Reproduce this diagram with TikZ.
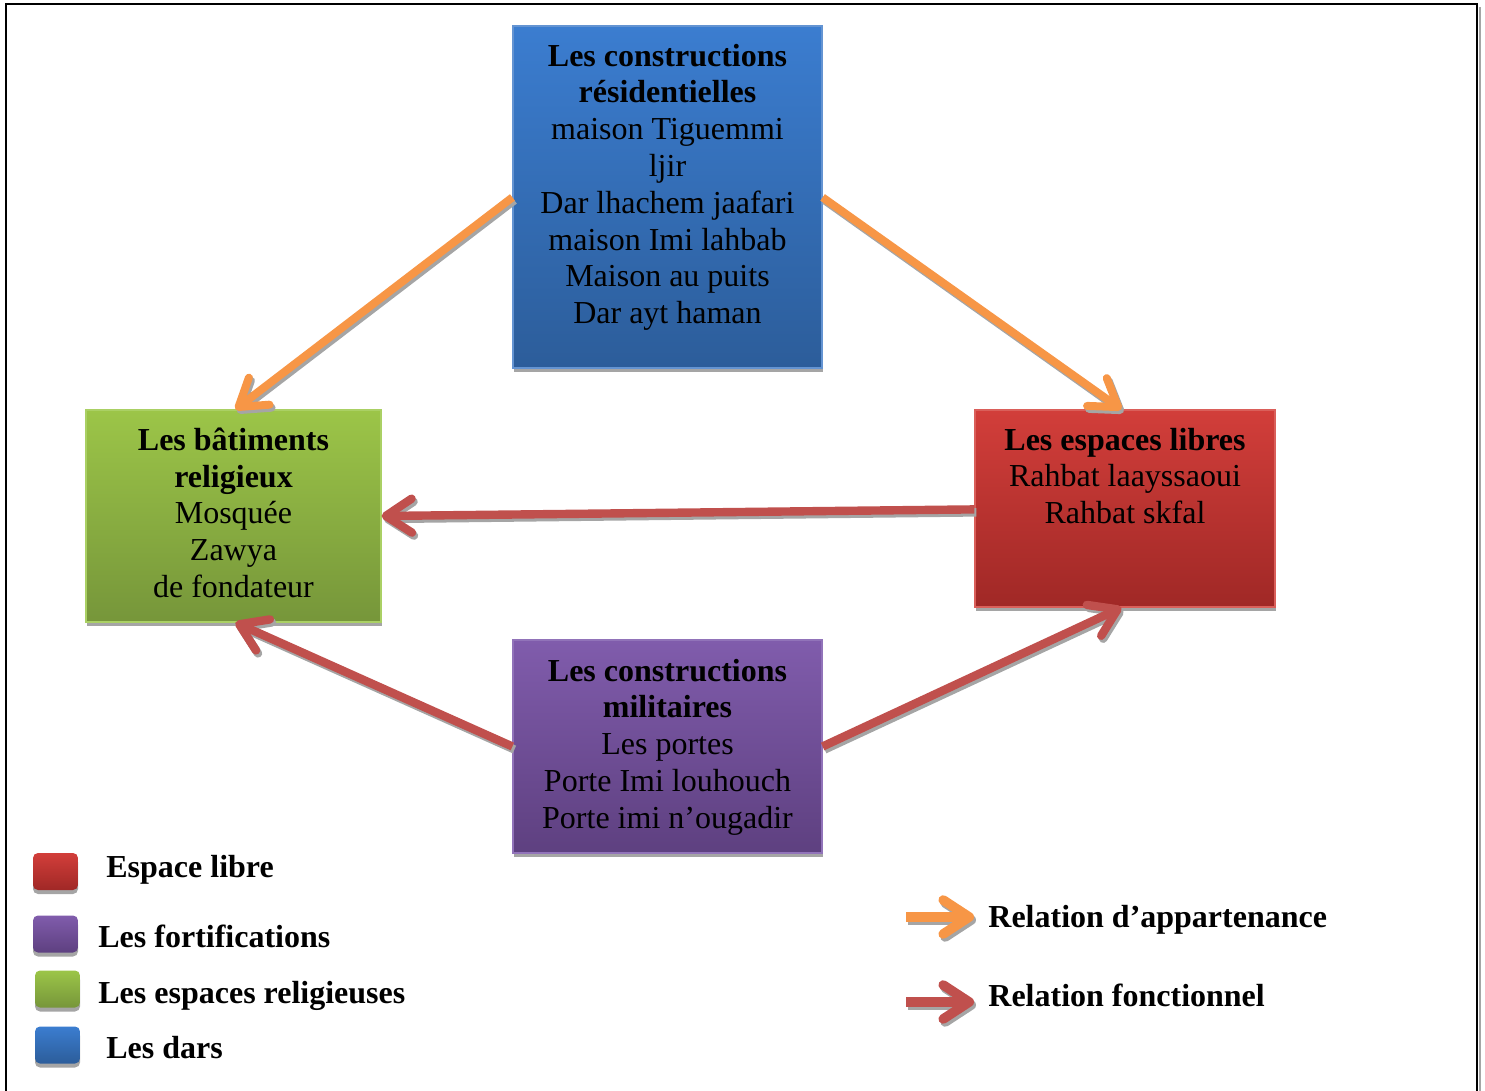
\documentclass[tikz,border=0pt]{standalone}
\usepackage{fontspec}
\setmainfont{Liberation Serif}
\usetikzlibrary{arrows.meta,calc,shadows}
\definecolor{orangeC}{HTML}{F79646}
\definecolor{redC}{HTML}{C0504D}
\definecolor{shadowC}{RGB}{165,165,165}
\definecolor{blueT}{RGB}{59,125,208}
\definecolor{blueB}{RGB}{44,93,154}
\definecolor{blueL}{RGB}{100,148,210}
\definecolor{greenT}{RGB}{156,197,72}
\definecolor{greenB}{RGB}{118,150,58}
\definecolor{greenL}{RGB}{170,208,100}
\definecolor{redT}{RGB}{210,62,58}
\definecolor{redB}{RGB}{160,40,38}
\definecolor{redL}{RGB}{218,95,90}
\definecolor{purpT}{RGB}{128,92,172}
\definecolor{purpB}{RGB}{94,64,128}
\definecolor{purpL}{RGB}{145,115,185}
\begin{document}
\begin{tikzpicture}[x=0.5pt,y=-0.5pt,
  boxsh/.style={rectangle, inner sep=0pt, line width=0.6pt,
    drop shadow={shadow xshift=0.6pt, shadow yshift=-2pt, fill=shadowC, opacity=1}},
  bluebox/.style={boxsh, draw=blueL, top color=blueT, bottom color=blueB},
  greenbox/.style={boxsh, draw=greenL, top color=greenT, bottom color=greenB},
  redbox/.style={boxsh, draw=redL, top color=redT, bottom color=redB},
  purpbox/.style={boxsh, draw=purpL, top color=purpT, bottom color=purpB},
  boxtext/.style={align=center, inner sep=0pt, anchor=north, font=\fontsize{16}{18.4}\selectfont},
  legsq/.style={rectangle, rounded corners=2.5pt, inner sep=0pt, minimum width=22.5pt, minimum height=18.5pt,
    drop shadow={shadow xshift=0pt, shadow yshift=-2pt, fill=shadowC, opacity=1}},
  legtext/.style={anchor=base west, inner sep=0pt, font=\fontsize{16}{18.4}\selectfont\bfseries},
  headtip/.style={-{Straight Barb[length=13pt,width=17pt,round]}},
  orangearr/.style={draw=orangeC, line width=4pt, headtip},
  redarr/.style={draw=redC, line width=4.2pt, headtip},
  shadowarr/.style={draw=shadowC, transform canvas={shift={(1pt,-1.5pt)}}}
]
\useasboundingbox (0,0) rectangle (1485,1091);
% frame
\draw[line width=1pt] (6,1091) -- (6,4) -- (1477,4) -- (1477,1091);
\draw[line width=1pt, shadowC] (1479.5,7) -- (1479.5,1091);

% boxes
\node[bluebox, minimum width=154.5pt, minimum height=171pt] (blue) at (667.5,197) {};
\node[greenbox, minimum width=147.5pt, minimum height=106pt] (green) at (233.5,516) {};
\node[redbox, minimum width=150pt, minimum height=98.5pt] (red) at (1125,508.5) {};
\node[purpbox, minimum width=154.5pt, minimum height=106.5pt] (purple) at (667.5,746.5) {};

% box texts
\node[boxtext] (bluetext) at ($(blue.north)+(0,18)$)
  {\textbf{Les constructions}\\ \textbf{résidentielles}\\ maison Tiguemmi\\ ljir\\ Dar lhachem jaafari\\ maison Imi lahbab\\ Maison au puits\\ Dar ayt haman};
\node[boxtext] (greentext) at ($(green.north)+(0,18)$)
  {\textbf{Les bâtiments}\\ \textbf{religieux}\\ Mosquée\\ Zawya\\ de fondateur};
\node[boxtext] (redtext) at ($(red.north)+(0,18)$)
  {\textbf{Les espaces libres}\\ Rahbat laayssaoui\\ Rahbat skfal};
\node[boxtext] (purpletext) at ($(purple.north)+(0,19)$)
  {\textbf{Les constructions}\\ \textbf{militaires}\\ Les portes\\ Porte Imi louhouch\\ Porte imi n’ougadir};

% connector end points
\coordinate (bL) at ($(blue.north west)+(0,172)$);
\coordinate (bR) at ($(blue.north east)+(0,172)$);
\coordinate (gT) at ($(green.north west)+(150,0)$);
\coordinate (gB) at ($(green.south west)+(150,0)$);
\coordinate (rT) at ($(red.north west)+(147,0)$);
\coordinate (rB) at ($(red.south west)+(147,0)$);
\coordinate (rL) at ($(red.north west)+(0,100)$);

% shadows of arrows
\draw[orangearr, shadowarr] (bL) -- (gT);
\draw[orangearr, shadowarr] (bR) -- (rT);
\draw[redarr, shadowarr] (rL) -- (green.east);
\draw[redarr, shadowarr] (purple.west) -- (gB);
\draw[redarr, shadowarr] (purple.east) -- (rB);
% arrows
\draw[orangearr] (bL) -- (gT);
\draw[orangearr] (bR) -- (rT);
\draw[redarr] (rL) -- (green.east);
\draw[redarr] (purple.west) -- (gB);
\draw[redarr] (purple.east) -- (rB);

% legend squares
\node[legsq, top color=redT, bottom color=redB] (lred) at (55.5,871.5) {};
\node[legsq, top color=purpT, bottom color=purpB] (lpurp) at (55.5,934) {};
\node[legsq, top color=greenT, bottom color=greenB] (lgreen) at (57.5,989) {};
\node[legsq, top color=blueT, bottom color=blueB] (lblue) at (57.5,1045) {};
\node[legtext] (tred) at (106,877) {Espace libre};
\node[legtext] (tpurp) at (98,947) {Les fortifications};
\node[legtext] (tgreen) at (98,1003) {Les espaces religieuses};
\node[legtext] (tblue) at (106,1058) {Les dars};

% legend arrows
\coordinate (la1s) at (906,917);
\coordinate (la1e) at (974,917);
\coordinate (la2s) at (906,1002);
\coordinate (la2e) at (974,1002);
\draw[orangearr, line width=4.8pt, shadowarr] (la1s) -- (la1e);
\draw[orangearr, line width=4.8pt] (la1s) -- (la1e);
\draw[redarr, line width=4.8pt, shadowarr] (la2s) -- (la2e);
\draw[redarr, line width=4.8pt] (la2s) -- (la2e);
\node[legtext] (trel1) at (988,927) {Relation d’appartenance};
\node[legtext] (trel2) at (988,1006) {Relation fonctionnel};
\end{tikzpicture}
\end{document}
